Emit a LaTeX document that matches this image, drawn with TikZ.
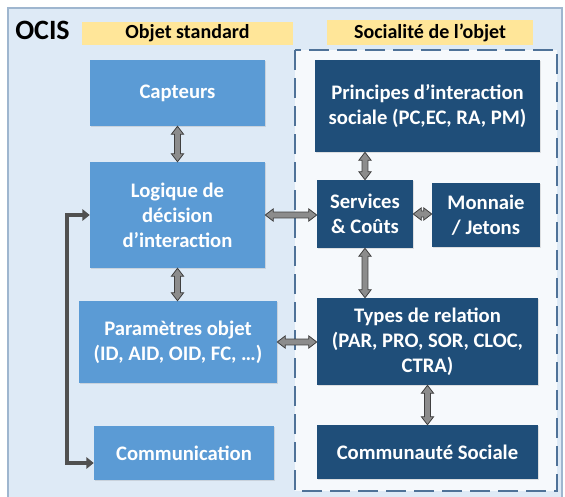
\documentclass[tikz,border=0pt]{standalone}
\usepackage{fontspec}
\setmainfont{Carlito}
\usetikzlibrary{calc,arrows.meta,shadows}
\definecolor{lightbox}{HTML}{5B9BD5}
\definecolor{darkbox}{HTML}{1F4E79}
\definecolor{outerfill}{HTML}{DEEAF6}
\definecolor{innerfill}{HTML}{F6F9FC}
\definecolor{outerline}{HTML}{9FB6CF}
\definecolor{dashline}{HTML}{4F7298}
\definecolor{bandfill}{HTML}{FFE699}
\definecolor{arrowfill}{HTML}{8C8C8C}
\definecolor{arrowline}{HTML}{404040}
\definecolor{elbowcol}{HTML}{505050}
\newcommand{\arrH}{4.6pt}
\newcommand{\arrS}{2.2pt}
\newcommand{\arrL}{6pt}
\newcommand{\vblock}[2]{%
  \draw[barrow] let \p1=(#1), \p2=(#2) in
    (\x1,\y1) -- (\x1+\arrH,\y1-\arrL) -- (\x1+\arrS,\y1-\arrL) -- (\x1+\arrS,\y2+\arrL)
    -- (\x1+\arrH,\y2+\arrL) -- (\x1,\y2) -- (\x1-\arrH,\y2+\arrL) -- (\x1-\arrS,\y2+\arrL)
    -- (\x1-\arrS,\y1-\arrL) -- (\x1-\arrH,\y1-\arrL) -- cycle;}
\newcommand{\hblock}[2]{%
  \draw[barrow] let \p1=(#1), \p2=(#2) in
    (\x1,\y1) -- (\x1+\arrL,\y1+\arrH) -- (\x1+\arrL,\y1+\arrS) -- (\x2-\arrL,\y1+\arrS)
    -- (\x2-\arrL,\y1+\arrH) -- (\x2,\y1) -- (\x2-\arrL,\y1-\arrH) -- (\x2-\arrL,\y1-\arrS)
    -- (\x1+\arrL,\y1-\arrS) -- (\x1+\arrL,\y1-\arrH) -- cycle;}
\tikzset{
  box/.style={text=white, font=\bfseries\fontsize{15.5}{18.75}\selectfont, align=center,
    inner sep=2pt, drop shadow={shadow xshift=0.9pt, shadow yshift=-0.9pt, opacity=0.22}},
  lbox/.style={box, fill=lightbox},
  dbox/.style={box, fill=darkbox},
  band/.style={fill=bandfill, text=black, inner sep=0pt, font=\bfseries\fontsize{15}{18}\selectfont},
  barrow/.style={fill=arrowfill, draw=arrowline, line width=0.6pt, line join=miter},
  elbow/.style={draw=elbowcol, line width=2.3pt, line join=miter,
    {Triangle[length=5.5pt,width=8.5pt]}-{Triangle[length=5.5pt,width=8.5pt]}}
}
\begin{document}
\begin{tikzpicture}[x=0.75pt,y=-0.75pt]
\useasboundingbox (0,0) rectangle (565,497);
% frames
\draw[outerline, fill=outerfill, line width=1.2pt] (8,8) rectangle (562,506);
\draw[dashline, fill=innerfill, line width=1.5pt, dash pattern=on 15pt off 6pt] (295,50) rectangle (557,491);
% titles
\node[anchor=west, font=\bfseries\fontsize{21}{24}\selectfont, inner sep=0pt] (ocis) at (15,30) {OCIS};
\node[band, minimum width=158.25pt, minimum height=17.25pt] (hstd) at (187.5,33.5) {Objet standard};
\node[band, minimum width=154.5pt, minimum height=18.75pt] (hsoc) at (430,32.5) {Socialité de l’objet};
% left boxes
\node[lbox, minimum width=131.25pt, minimum height=49.5pt] (capteurs) at (177.5,93) {Capteurs};
\node[lbox, minimum width=131.25pt, minimum height=79.5pt] (logique) at (177.5,215) {Logique de\\décision\\d’interaction};
\node[lbox, minimum width=148.5pt, minimum height=61.5pt] (param) at (178,342) {Paramètres objet\\(ID, AID, OID, FC, …)};
\node[lbox, minimum width=135pt, minimum height=40.5pt] (comm) at (184,453) {Communication};
% right boxes
\node[dbox, minimum width=168.75pt, minimum height=69pt] (princ) at (427.5,106) {Principes d’interaction\\sociale (PC,EC, RA, PM)};
\node[dbox, minimum width=72pt, minimum height=51pt] (serv) at (365,214) {Services\\\& Coûts};
\node[dbox, minimum width=81pt, minimum height=48pt] (monn) at (486,215) {Monnaie\\/ Jetons};
\node[dbox, minimum width=165.75pt, minimum height=65.25pt] (types) at (427.5,341.5) {Types de relation\\(PAR, PRO, SOR, CLOC,\\CTRA)};
\node[dbox, minimum width=165.75pt, minimum height=40.5pt] (commu) at (427.5,452) {Communauté Sociale};
% block arrows
\vblock{capteurs.south}{capteurs.south |- logique.north}
\vblock{logique.south}{logique.south |- param.north}
\hblock{logique.east}{logique.east -| serv.west}
\vblock{serv.north |- princ.south}{serv.north}
\hblock{serv.east}{serv.east -| monn.west}
\vblock{serv.south}{serv.south |- types.north}
\hblock{param.east}{param.east -| types.west}
\vblock{types.south}{types.south |- commu.north}
% elbow connector
\coordinate (bend) at (67,215);
\coordinate (cw) at ([yshift=-7.5pt]comm.west);
\draw[elbow] (logique.west) -- (bend) -- (bend |- cw) -- (cw);
\end{tikzpicture}
\end{document}
